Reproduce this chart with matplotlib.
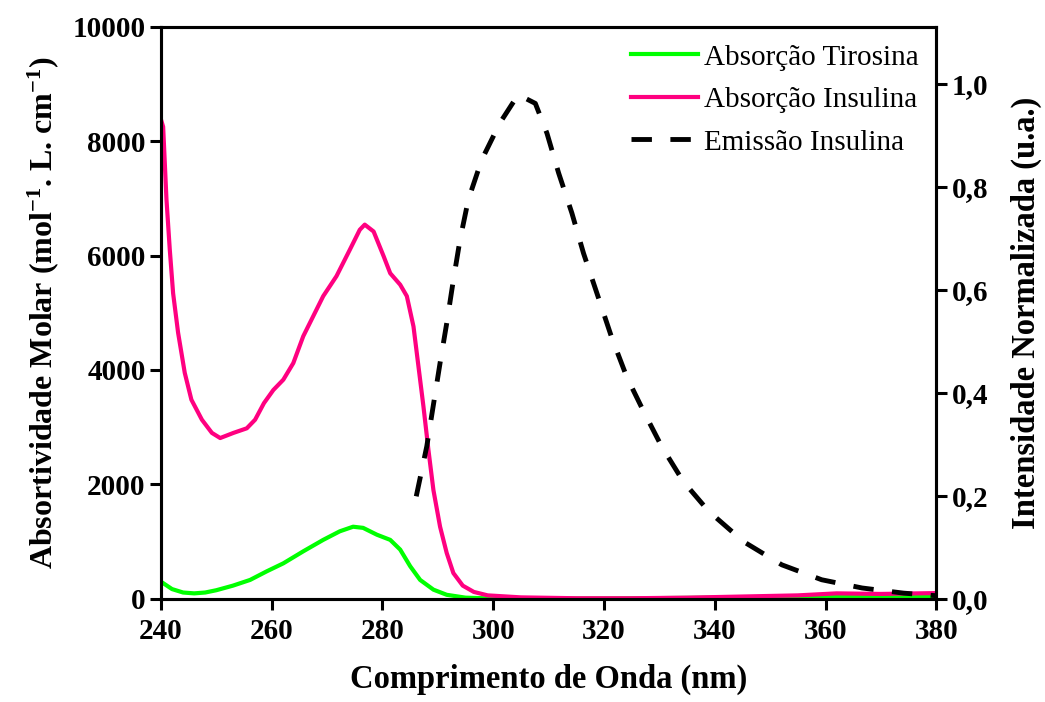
import numpy as np
import matplotlib
matplotlib.use("Agg")
import matplotlib.pyplot as plt

plt.rcParams['font.family'] = ['Liberation Serif', 'DejaVu Serif']
plt.rcParams['mathtext.fontset'] = 'custom'
plt.rcParams['mathtext.rm'] = 'Liberation Serif:bold'
plt.rcParams['mathtext.bf'] = 'Liberation Serif:bold'
plt.rcParams['mathtext.default'] = 'bf'

# absorption of insulin (molar absorptivity)
wl_ins = [240, 240.4, 241.0, 241.6, 242.2, 243.1, 244.3, 245.5, 247.4, 249.2, 250.7,
          253.1, 255.5, 257.0, 258.6, 260.3, 262.1, 263.9, 265.7, 267.5, 269.3,
          271.7, 274.1, 275.9, 276.8, 278.4, 280.2, 281.4, 283.2, 284.4, 285.6,
          286.5, 287.4, 288.3, 289.2, 290.4, 291.6, 292.8, 294.5, 296.5, 299,
          305, 315, 325, 335, 345, 355, 362, 370, 380]
abs_ins = [8380, 8250, 6980, 6100, 5340, 4650, 3950, 3480, 3130, 2900, 2810,
           2900, 2980, 3130, 3420, 3650, 3830, 4120, 4590, 4940, 5290,
           5640, 6100, 6450, 6540, 6420, 5990, 5690, 5490, 5290, 4760,
           4060, 3360, 2600, 1900, 1260, 800, 450, 230, 120, 60,
           25, 10, 10, 20, 40, 60, 95, 85, 100]

# absorption of tyrosine
wl_tyr = [240, 242, 244, 246, 248, 250, 253, 256.1, 259.1, 262.1, 265.7, 269.3,
          272.3, 274.7, 276.5, 279.0, 281.4, 283.2, 285.0, 286.8, 289.2, 291.6,
          295, 300, 320, 340, 360, 380]
abs_tyr = [300, 170, 110, 95, 110, 150, 230, 330, 480, 620, 830, 1030,
           1180, 1260, 1240, 1120, 1030, 860, 570, 330, 160, 70,
           20, 5, 5, 20, 40, 50]

# normalized emission of insulin
wl_em = [286.1, 288.0, 289.2, 290.4, 291.6, 292.8, 294.0, 295.5, 297.9, 301.2,
         304.5, 307.6, 309.7, 311.8, 314.2, 316.3, 318.7, 321.4, 324.1, 327.1,
         330.4, 334.3, 338.9, 345.2, 352.1, 359.3, 366.6, 374.1, 380]
em_ins = [0.199, 0.296, 0.377, 0.458, 0.535, 0.619, 0.697, 0.775, 0.852, 0.924,
          0.979, 0.962, 0.904, 0.827, 0.749, 0.671, 0.594, 0.507, 0.431, 0.365,
          0.296, 0.228, 0.170, 0.111, 0.066, 0.037, 0.021, 0.011, 0.006]

fig = plt.figure(figsize=(10.45, 7.02), dpi=100)
ax = fig.add_axes([0.154, 0.147, 0.742, 0.815])
ax2 = ax.twinx()

l1, = ax.plot(wl_tyr, abs_tyr, color='#00ff00', lw=3, label='Absorção Tirosina',
              solid_joinstyle='round')
l2, = ax.plot(wl_ins, abs_ins, color='#ff0080', lw=3, label='Absorção Insulina',
              solid_joinstyle='round')
l3, = ax2.plot(wl_em, em_ins, color='black', lw=3.5, dashes=(4.2, 3.8),
               label='Emissão Insulina')

ax.set_xlim(240, 380)
ax.set_ylim(0, 10000)
ax2.set_ylim(0, 1.111)
ax.set_xticks(np.arange(240, 381, 20))
ax.set_yticks(np.arange(0, 10001, 2000))
ax2.set_yticks([0, 0.2, 0.4, 0.6, 0.8, 1.0])
ax2.set_yticklabels(['0,0', '0,2', '0,4', '0,6', '0,8', '1,0'])

for a in (ax, ax2):
    for s in a.spines.values():
        s.set_linewidth(2.2)
    a.tick_params(direction='out', length=8, width=2.2, labelsize=21, pad=3)
    for t in a.get_xticklabels() + a.get_yticklabels():
        t.set_fontweight('bold')
ax.tick_params(axis='x', pad=6)

ax.set_xlabel('Comprimento de Onda (nm)', fontsize=23.5, fontweight='bold', labelpad=13)
ax.set_ylabel(r'Absortividade Molar (mol$^{-1}$. L. cm$^{-1}$)', fontsize=23,
              fontweight='bold', labelpad=8)
ax2.set_ylabel('Intensidade Normalizada (u.a.)', fontsize=23.5, fontweight='bold',
               labelpad=16)

ax.legend(handles=[l1, l2, l3], loc='upper right', frameon=False, fontsize=21,
          handlelength=2.3, handletextpad=0.2, labelspacing=0.55,
          borderaxespad=0.2)

fig.savefig('out.png', dpi=100)
